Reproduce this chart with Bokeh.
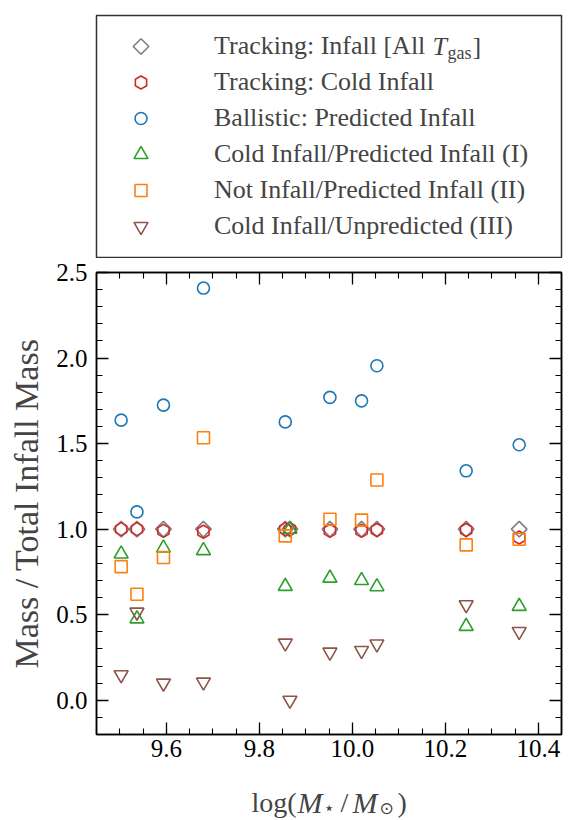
import math

from bokeh.embed import file_html
from bokeh.layouts import column
from bokeh.models import (Label, Legend, LegendItem, LinearAxis,
                          PrintfTickFormatter, Range1d, SingleIntervalTicker)
from bokeh.plotting import figure
from bokeh.resources import INLINE

NAN = float("nan")

# Galaxy stellar masses, log(M*/Msun)
log_mstar = [9.503, 9.537, 9.594, 9.680, 9.856, 9.866, 9.952, 10.020, 10.053, 10.245, 10.359]

# Mass in each category, normalised by the total tracked infall mass
tracking_infall_all = [1.0, 1.0, 1.0, 1.0, 1.0, 1.0, 1.0, 1.0, 1.0, 1.0, 1.0]
tracking_cold_infall = [1.0, 1.0, 0.99, 0.985, 1.0, 1.0, 0.99, 0.99, 0.995, 0.995, 0.951]
ballistic_predicted = [1.637, 1.101, 1.725, 2.409, 1.627, NAN, 1.770, 1.750, 1.955, 1.341, 1.493]
cold_and_predicted = [0.855, 0.476, 0.890, 0.875, 0.666, 1.0, 0.714, 0.700, 0.664, 0.432, 0.549]
notinfall_predicted = [0.781, 0.620, 0.834, 1.534, 0.961, NAN, 1.058, 1.053, 1.287, 0.908, 0.941]
cold_unpredicted = [0.149, 0.515, 0.100, 0.106, 0.334, 0.0, 0.281, 0.291, 0.329, 0.558, 0.402]

labels = [
    "Tracking: Infall [All",
    "Tracking: Cold Infall",
    "Ballistic: Predicted Infall",
    "Cold Infall/Predicted Infall (I)",
    "Not Infall/Predicted Infall (II)",
    "Cold Infall/Unpredicted (III)",
]
series = [tracking_infall_all, tracking_cold_infall, ballistic_predicted,
          cold_and_predicted, notinfall_predicted, cold_unpredicted]

styles = [
    dict(marker="square", angle=math.pi / 4, size=11, line_color="#7f7f7f"),
    dict(marker="hex", angle=math.pi / 2, size=13, line_color="#d62728"),
    dict(marker="circle", angle=0.0, size=12, line_color="#1f77b4"),
    dict(marker="triangle", angle=0.0, size=14, line_color="#2ca02c"),
    dict(marker="square", angle=0.0, size=12, line_color="#ff7f0e"),
    dict(marker="inverted_triangle", angle=0.0, size=14, line_color="#8c564b"),
]

SERIF = "'Liberation Serif'"
W = 579

# ---------------- legend panel ----------------
LEG_W, LEG_H, Y0 = 465, 243, 100          # panel in pixel-like units, lifted by Y0
PAD, ROW, GLYPH_W, STANDOFF = 13, 36, 63, 42

leg = figure(width=W, height=258, x_range=Range1d(0, LEG_W), y_range=Range1d(Y0, Y0 + LEG_H),
             x_axis_location=None, y_axis_location=None, toolbar_location=None,
             output_backend="svg", min_border_left=96, min_border_right=18,
             min_border_top=15, min_border_bottom=0)
leg.grid.visible = False
leg.outline_line_color = "#333333"
leg.outline_line_width = 1.5

items = []
for lab, vals, st in zip(labels, series, styles):
    # carries the entry text; its data lies outside this panel
    r = leg.scatter(x=log_mstar, y=vals, fill_color=None, line_alpha=0, **st)
    items.append(LegendItem(label=lab, renderers=[r]))

legend = Legend(items=items, location="top_left", margin=0, padding=PAD, spacing=0,
                glyph_width=GLYPH_W, glyph_height=ROW, label_height=ROW, label_standoff=STANDOFF,
                label_text_font=SERIF, label_text_font_size="26px",
                border_line_alpha=0, background_fill_alpha=0)
leg.add_layout(legend)

# marker swatches (drawn here so that rotated markers keep their angle)
row_y = [Y0 + LEG_H - (PAD + ROW / 2 + ROW * i) for i in range(len(styles))]
for yy, st in zip(row_y, styles):
    leg.scatter(x=[PAD + GLYPH_W / 2], y=[yy], fill_color=None, line_width=1.6, **st)

# italic T with subscript "gas" closing the first entry
for x, dy, t, s, fs in [(336, 0, "T", "italic", "26px"), (351, -6, "gas", "normal", "18px"),
                        (376, 0, "]", "normal", "26px")]:
    leg.add_layout(Label(x=x, y=row_y[0] + dy, text=t, text_font=SERIF, text_font_style=s,
                         text_font_size=fs, text_baseline="middle"))

# ---------------- main scatter panel ----------------
p = figure(width=W, height=518, x_range=Range1d(9.45, 10.45), y_range=Range1d(-0.2, 2.5),
           toolbar_location=None, output_backend="svg",
           min_border_left=96, min_border_right=18, min_border_top=14, min_border_bottom=42)
p.grid.visible = False
p.outline_line_color = "black"
p.outline_line_width = 1.5

xt = SingleIntervalTicker(interval=0.2, num_minor_ticks=4)
yt = SingleIntervalTicker(interval=0.5, num_minor_ticks=5)
p.xaxis.ticker = xt
p.yaxis.ticker = yt
p.xaxis.formatter = PrintfTickFormatter(format="%.1f")
p.yaxis.formatter = PrintfTickFormatter(format="%.1f")

top_axis = LinearAxis(ticker=xt)
right_axis = LinearAxis(ticker=yt)
p.add_layout(top_axis, "above")
p.add_layout(right_axis, "right")

for ax in p.axis:
    ax.major_tick_in = 12
    ax.major_tick_out = 0
    ax.minor_tick_in = 6
    ax.minor_tick_out = 0
    ax.major_tick_line_width = 1.3
    ax.minor_tick_line_width = 1.1
    ax.axis_line_width = 1.5
    ax.major_label_text_font = SERIF
    ax.major_label_text_font_size = "25px"
    ax.major_label_text_color = "black"

# mirrored tick marks only, without numbers
for ax in (top_axis, right_axis):
    ax.major_label_text_color = None
    ax.major_label_text_font_size = "1px"
    ax.major_label_standoff = 0

p.xaxis[0].major_label_standoff = 10
p.yaxis[0].major_label_standoff = 9
p.yaxis[0].axis_label = "Mass / Total Infall Mass"
p.yaxis[0].axis_label_text_font = SERIF
p.yaxis[0].axis_label_text_font_style = "normal"
p.yaxis[0].axis_label_text_font_size = "34px"
p.yaxis[0].axis_label_standoff = 8

for vals, st in zip(series, styles):
    p.scatter(x=log_mstar, y=vals, fill_color=None, line_width=1.6, **st)

# ---------------- x-axis title ----------------
xt_fig = figure(width=W, height=44, x_range=Range1d(96, 561), y_range=Range1d(0, 44),
                x_axis_location=None, y_axis_location=None, toolbar_location=None,
                output_backend="svg", min_border_left=96, min_border_right=18,
                min_border_top=0, min_border_bottom=0)
xt_fig.grid.visible = False
xt_fig.outline_line_color = None
base = 18
pieces = [
    (251, base, "log(", SERIF, "normal", "28px"),
    (297, base, "M", SERIF, "italic", "30px"),
    (323, base - 5, "\u22c6", "DejaVu Sans", "normal", "18px"),
    (340, base, "/", SERIF, "normal", "28px"),
    (352, base, "M", SERIF, "italic", "30px"),
    (379, base - 5, "\u2299", "DejaVu Sans", "normal", "17px"),
    (397, base, ")", SERIF, "normal", "28px"),
]
for x, y, t, f, s, fs in pieces:
    xt_fig.add_layout(Label(x=x, y=y, text=t, text_font=f, text_font_style=s,
                            text_font_size=fs, text_baseline="alphabetic"))

layout = column(leg, p, xt_fig, spacing=0)
open("out.html", "w").write(file_html(layout, INLINE))
